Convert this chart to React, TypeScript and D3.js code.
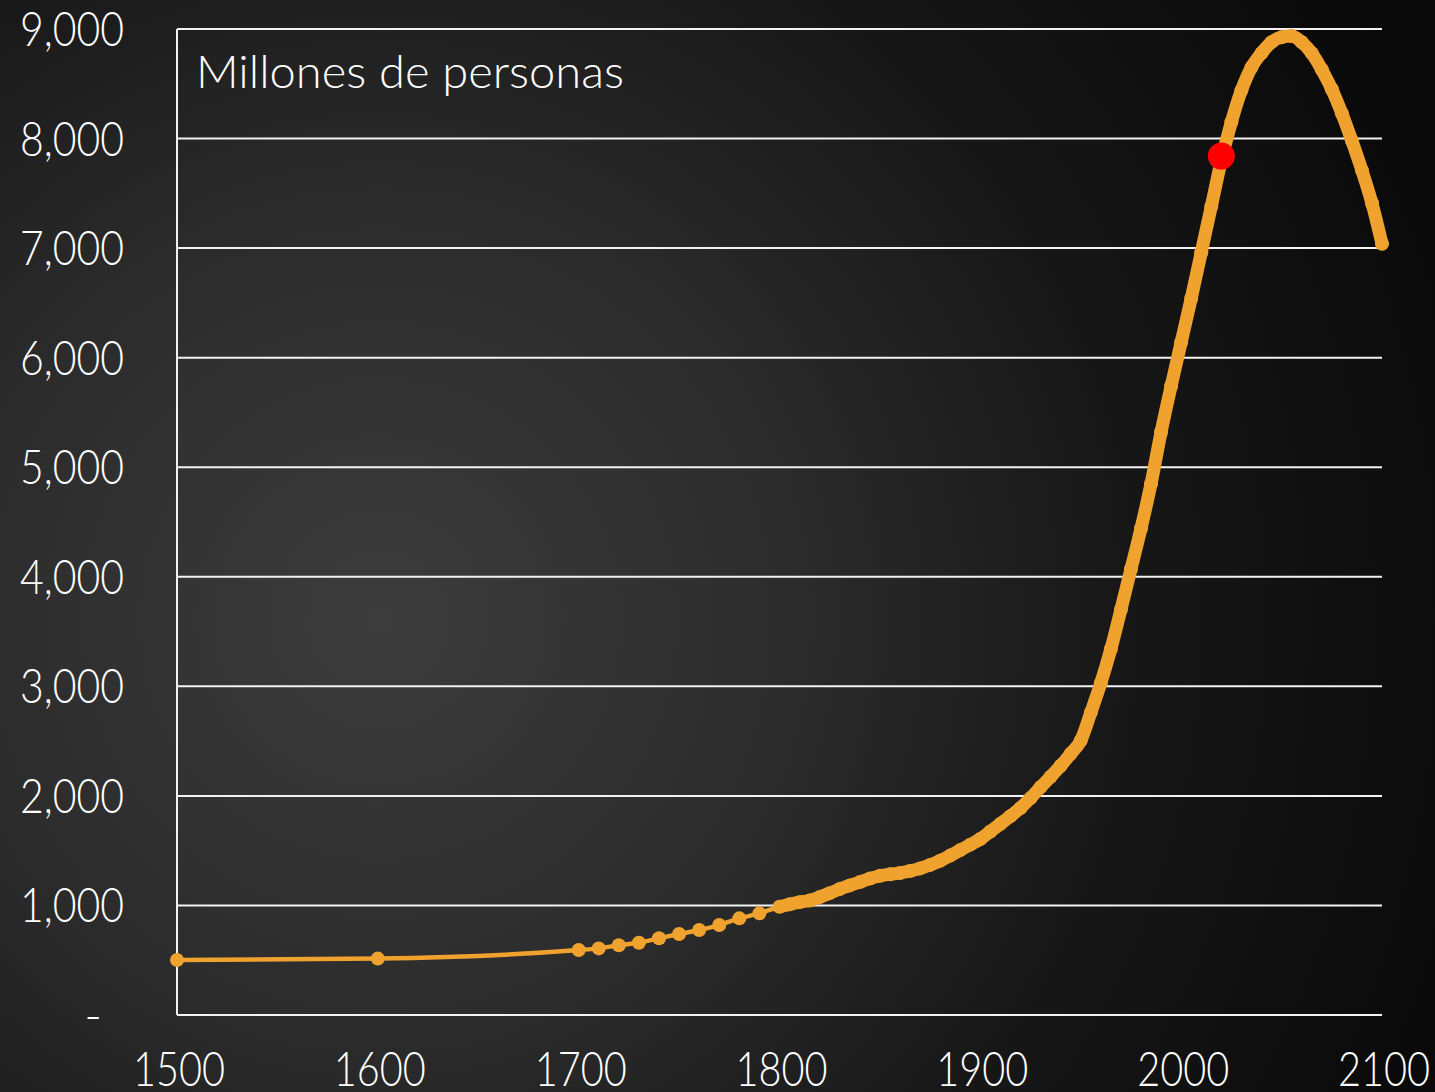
import React from "react";
import * as d3 from "d3";

// ---- data (millions of people) ----
const years: number[] = [
  1500, 1600, 1700, 1710, 1720, 1730, 1740, 1750, 1760, 1770, 1780, 1790,
  1800, 1805, 1810, 1815, 1820, 1825, 1830, 1835, 1840, 1845, 1850, 1855,
  1860, 1865, 1870, 1875, 1880, 1885, 1890, 1895, 1900, 1905, 1910, 1915,
  1920, 1925, 1930, 1935, 1940, 1945, 1950, 1955, 1960, 1965, 1970, 1975,
  1980, 1985, 1990, 1995, 2000, 2005, 2010, 2015, 2020, 2025, 2030, 2035,
  2040, 2045, 2050, 2055, 2060, 2065, 2070, 2075, 2080, 2085, 2090, 2095, 2100,
];
const population: number[] = [
  502, 515, 593, 608, 637, 660, 700, 739, 776, 821, 882, 928,
  988, 1010, 1030, 1045, 1076, 1112, 1150, 1183, 1213, 1245, 1270, 1285,
  1296, 1315, 1338, 1370, 1408, 1455, 1505, 1555, 1606, 1675, 1745, 1815,
  1890, 1980, 2080, 2175, 2275, 2385, 2505, 2760, 3030, 3340, 3700, 4070,
  4440, 4850, 5320, 5740, 6140, 6540, 6960, 7380, 7800, 8150, 8440, 8650,
  8780, 8880, 8925, 8935, 8880, 8780, 8630, 8450, 8230, 7980, 7710, 7410, 7040,
];
const currentYear = 2020;
const currentPopulation = 7840;
const yTicks: number[] = [0, 1000, 2000, 3000, 4000, 5000, 6000, 7000, 8000, 9000];
const xTicks: number[] = [1500, 1600, 1700, 1800, 1900, 2000, 2100];
const titleText = "Millones de personas";
const denseFrom = 1800;

const W = 1435;
const H = 1092;
const ORANGE = "#F0A22E";
const FONT = "Lato, 'Open Sans', 'DejaVu Sans', sans-serif";

export default function App() {
  const x = d3.scaleLinear().domain([1500, 2100]).range([177, 1382]);
  const y = d3.scaleLinear().domain([0, 9000]).range([1015, 29]);

  const pts = years.map((yr, i) => ({ yr, v: population[i] }));
  const dense = pts.filter((p) => p.yr >= denseFrom);

  const line = d3
    .line<{ yr: number; v: number }>()
    .x((d) => x(d.yr))
    .y((d) => y(d.v))
    .curve(d3.curveMonotoneX);

  const fmt = d3.format(",");

  return (
    <svg
      width={W}
      height={H}
      style={{ position: "absolute", left: 0, top: 0, display: "block" }}
    >
      <defs>
        <radialGradient
          id="bg"
          gradientUnits="userSpaceOnUse"
          cx={380}
          cy={620}
          r={1150}
        >
          <stop offset="0" stopColor="#3c3c3c" />
          <stop offset="0.35" stopColor="#2c2c2c" />
          <stop offset="0.65" stopColor="#181717" />
          <stop offset="1" stopColor="#090909" />
        </radialGradient>
      </defs>
      <rect x={0} y={0} width={W} height={H} fill="url(#bg)" />

      {/* gridlines */}
      {yTicks.map((t) => (
        <line
          key={"g" + t}
          x1={x(1500)}
          x2={x(2100)}
          y1={y(t)}
          y2={y(t)}
          stroke="#f2f2f2"
          strokeWidth={2}
        />
      ))}
      {/* left axis */}
      <line
        x1={x(1500)}
        x2={x(1500)}
        y1={y(9000)}
        y2={y(0)}
        stroke="#f2f2f2"
        strokeWidth={2}
      />

      {/* y tick labels */}
      {yTicks.map((t) => (
        <text
          key={"yl" + t}
          x={t === 0 ? 102 : 124}
          y={y(t) + 17}
          textAnchor="end"
          fill="#ffffff"
          fontFamily={FONT}
          fontWeight={300}
          fontSize={48}
          {...(t === 0 ? {} : { textLength: 104, lengthAdjust: "spacingAndGlyphs" })}
        >
          {t === 0 ? "-" : fmt(t)}
        </text>
      ))}

      {/* x tick labels */}
      {xTicks.map((t) => (
        <text
          key={"xl" + t}
          x={x(t) + 2}
          y={1086}
          textAnchor="middle"
          fill="#ffffff"
          fontFamily={FONT}
          fontWeight={300}
          fontSize={48}
          textLength={92}
          lengthAdjust="spacingAndGlyphs"
        >
          {t}
        </text>
      ))}

      {/* title */}
      <text
        x={196}
        y={88}
        fill="#ffffff"
        fontFamily={FONT}
        fontWeight={300}
        fontSize={46}
        textLength={428}
        lengthAdjust="spacingAndGlyphs"
      >
        {titleText}
      </text>

      {/* series */}
      <path
        d={line(pts) || ""}
        fill="none"
        stroke={ORANGE}
        strokeWidth={4.5}
        strokeLinejoin="round"
      />
      <path
        d={line(dense) || ""}
        fill="none"
        stroke={ORANGE}
        strokeWidth={13}
        strokeLinejoin="round"
        strokeLinecap="round"
      />
      {pts.map((p) => (
        <circle
          key={"m" + p.yr}
          cx={x(p.yr)}
          cy={y(p.v)}
          r={7}
          fill={ORANGE}
        />
      ))}

      {/* current marker */}
      <circle
        cx={x(currentYear)}
        cy={y(currentPopulation)}
        r={13.5}
        fill="#ff0000"
      />
    </svg>
  );
}
